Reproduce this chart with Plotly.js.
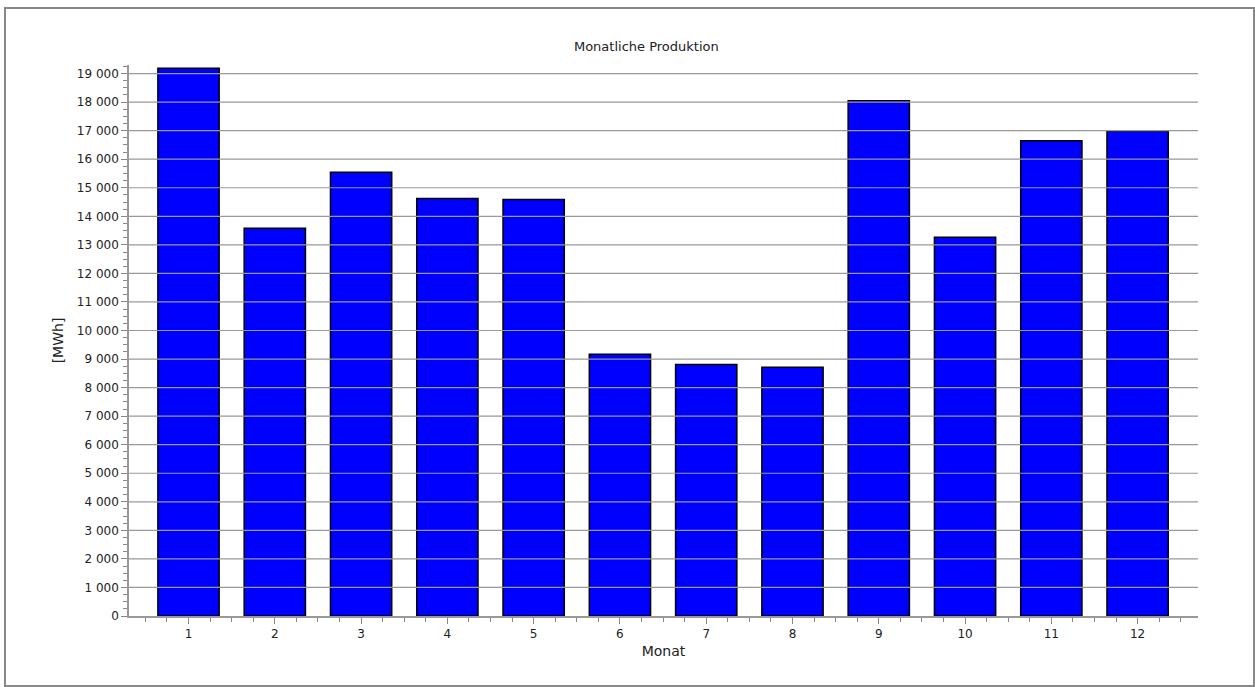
<!DOCTYPE html>
<html>
<head>
<meta charset="utf-8">
<script src="https://cdn.plot.ly/plotly-3.0.1.min.js"></script>
<style>
html,body{margin:0;padding:0;background:#fff;}
#chart{width:1255px;height:687px;}
</style>
</head>
<body>
<div id="chart"></div>
<script>
// Data
const months = [1, 2, 3, 4, 5, 6, 7, 8, 9, 10, 11, 12];
const monthLabels = ["1", "2", "3", "4", "5", "6", "7", "8", "9", "10", "11", "12"];
const production = [19190, 13585, 15545, 14620, 14585, 9170, 8810, 8715, 18050, 13270, 16645, 16985];
const yTicks = [0, 1000, 2000, 3000, 4000, 5000, 6000, 7000, 8000, 9000, 10000,
                11000, 12000, 13000, 14000, 15000, 16000, 17000, 18000, 19000];
const chartTitle = "Monatliche Produktion";
const xTitle = "Monat";
const yTitle = "[MWh]";

const FONT = "DejaVu Sans, Verdana, sans-serif";

const trace = {
  type: "bar",
  x: months,
  y: production,
  width: 0.71,
  marker: { color: "#0000FF", line: { color: "#000000", width: 1.5 } },
  hoverinfo: "x+y"
};

// gridlines drawn above the bars, as in the reference
const gridShapes = yTicks.slice(1).map(v => ({
  type: "line", xref: "paper", yref: "y", x0: 0, x1: 1, y0: v, y1: v,
  line: { color: "#999999", width: 1.2 }, layer: "above"
}));

const frame = {
  type: "rect", xref: "paper", yref: "paper",
  x0: -0.116, x1: 1.0524, y0: -0.127, y1: 1.1034,
  line: { color: "#888888", width: 2 }, fillcolor: "rgba(0,0,0,0)", layer: "below"
};

const layout = {
  width: 1255, height: 687,
  margin: { l: 129, r: 57, t: 65, b: 71, pad: 0 },
  paper_bgcolor: "#ffffff", plot_bgcolor: "#ffffff",
  separators: ", ",
  font: { family: FONT, size: 12, color: "#222222" },
  showlegend: false,
  title: {
    text: chartTitle, xref: "container", yref: "container",
    x: 0.515, xanchor: "center", y: 0.933, yanchor: "middle",
    font: { family: FONT, size: 13, color: "#222222" }
  },
  xaxis: {
    range: [0.31, 12.7],
    tickmode: "array", tickvals: months, ticktext: monthLabels,
    ticks: "outside", ticklen: 6, tickcolor: "#888888", tickwidth: 1,
    minor: { tickmode: "linear", tick0: 0, dtick: 0.25, ticks: "outside", ticklen: 4, tickcolor: "#888888", showgrid: false },
    showline: true, linecolor: "#999999", linewidth: 1.5,
    showgrid: false, zeroline: false,
    tickfont: { family: FONT, size: 12, color: "#222222" },
    title: { text: xTitle, standoff: 6, font: { family: FONT, size: 14, color: "#222222" } }
  },
  yaxis: {
    range: [0, 19300],
    tickmode: "array", tickvals: yTicks, tickformat: ",d",
    ticks: "outside", ticklen: 6, tickcolor: "#888888", tickwidth: 1,
    minor: { tickmode: "linear", tick0: 0, dtick: 250, ticks: "outside", ticklen: 4, tickcolor: "#888888", showgrid: false },
    showline: true, linecolor: "#999999", linewidth: 1.5,
    showgrid: false, zeroline: false,
    tickfont: { family: FONT, size: 12, color: "#222222" },
    title: { text: yTitle, standoff: 10, font: { family: FONT, size: 14, color: "#222222" } }
  },
  shapes: [frame].concat(gridShapes),
  bargap: 0.29
};

Plotly.newPlot("chart", [trace], layout, { displayModeBar: false, staticPlot: false });
</script>
</body>
</html>
